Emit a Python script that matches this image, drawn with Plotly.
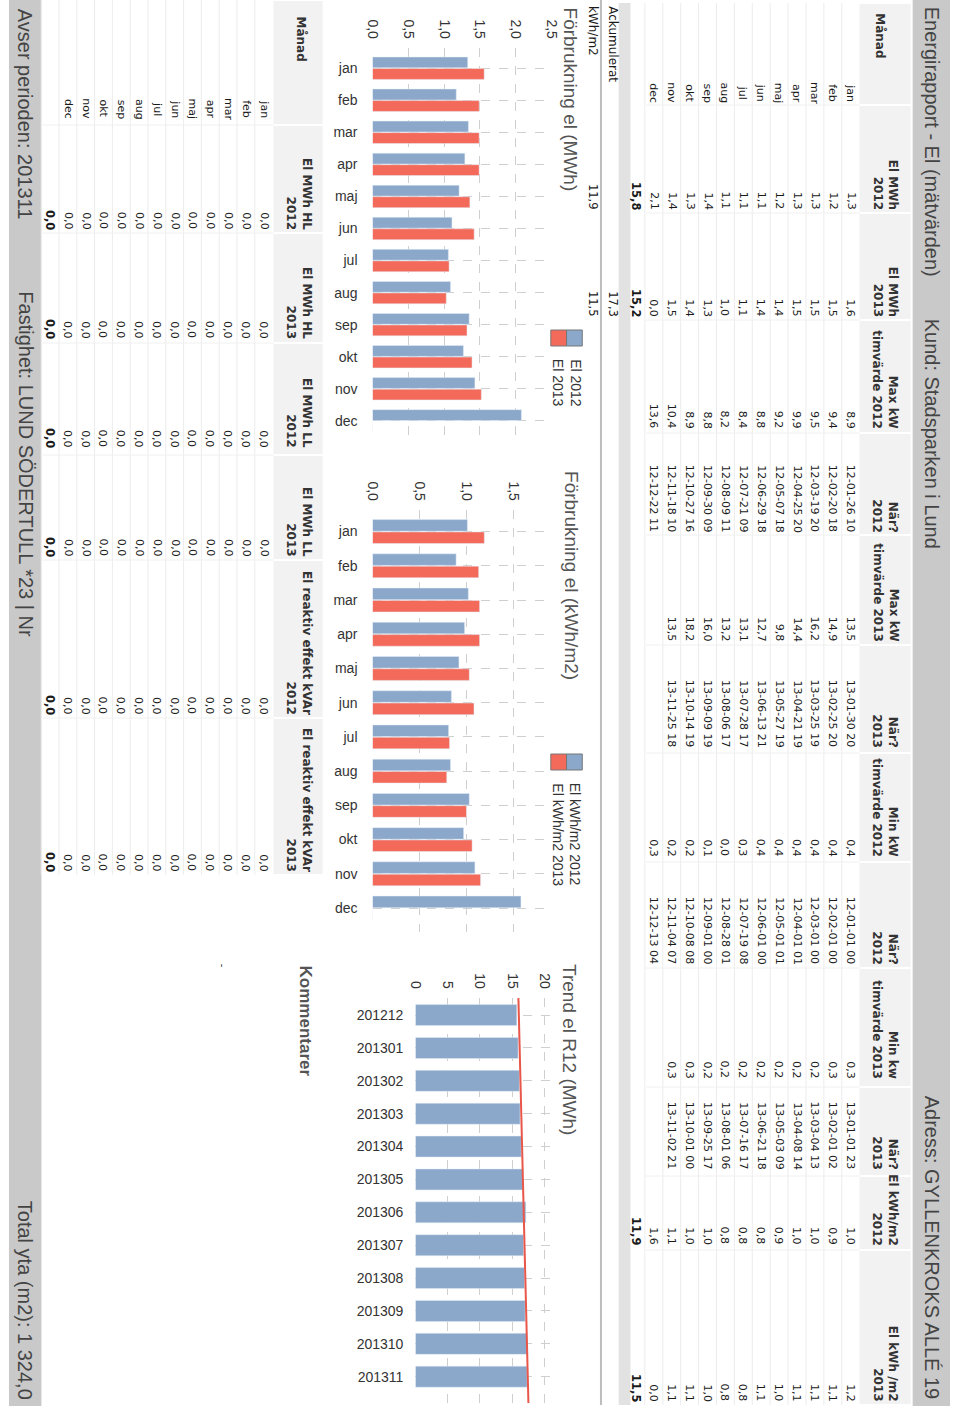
import plotly.graph_objects as go

W, H = 960, 1406

# ---------------- data ----------------
months = ["jan", "feb", "mar", "apr", "maj", "jun", "jul", "aug", "sep", "okt", "nov", "dec"]

el_mwh_2012 = [1.3, 1.2, 1.3, 1.3, 1.2, 1.1, 1.1, 1.1, 1.4, 1.3, 1.4, 2.1]
el_mwh_2013 = [1.6, 1.5, 1.5, 1.5, 1.4, 1.4, 1.1, 1.0, 1.3, 1.4, 1.5, 0.0]
max_kw_2012 = [8.9, 9.4, 9.5, 9.9, 9.2, 8.8, 8.4, 8.2, 8.8, 8.9, 10.4, 13.6]
max_when_2012 = ["12-01-26 10", "12-02-20 18", "12-03-19 20", "12-04-25 20", "12-05-07 18", "12-06-29 18",
                 "12-07-21 09", "12-08-09 11", "12-09-30 09", "12-10-27 16", "12-11-18 10", "12-12-22 11"]
max_kw_2013 = [13.5, 14.9, 16.2, 14.4, 9.8, 12.7, 13.1, 13.2, 16.0, 18.2, 13.5, None]
max_when_2013 = ["13-01-30 20", "13-02-25 20", "13-03-25 19", "13-04-21 19", "13-05-27 19", "13-06-13 21",
                 "13-07-28 17", "13-08-06 17", "13-09-09 19", "13-10-14 19", "13-11-25 18", ""]
min_kw_2012 = [0.4, 0.4, 0.4, 0.4, 0.4, 0.4, 0.3, 0.0, 0.1, 0.2, 0.2, 0.3]
min_when_2012 = ["12-01-01 00", "12-02-01 00", "12-03-01 00", "12-04-01 01", "12-05-01 01", "12-06-01 00",
                 "12-07-19 08", "12-08-28 01", "12-09-01 00", "12-10-08 08", "12-11-04 07", "12-12-13 04"]
min_kw_2013 = [0.3, 0.3, 0.2, 0.2, 0.2, 0.2, 0.2, 0.2, 0.2, 0.3, 0.3, None]
min_when_2013 = ["13-01-01 23", "13-02-01 02", "13-03-04 13", "13-04-08 14", "13-05-03 09", "13-06-21 18",
                 "13-07-16 17", "13-08-01 06", "13-09-25 17", "13-10-01 00", "13-11-02 21", ""]
kwh_m2_2012 = [1.0, 0.9, 1.0, 1.0, 0.9, 0.8, 0.8, 0.8, 1.0, 1.0, 1.1, 1.6]
kwh_m2_2013 = [1.2, 1.1, 1.1, 1.1, 1.0, 1.1, 0.8, 0.8, 1.0, 1.1, 1.1, 0.0]
total_mwh = [15.8, 15.2]
total_kwh_m2 = [11.9, 11.5]
ackumulerat_mwh_2013 = 17.3
ackumulerat_kwh_m2 = [11.9, 11.5]

hl_2012 = [0.0] * 12
hl_2013 = [0.0] * 12
ll_2012 = [0.0] * 12
ll_2013 = [0.0] * 12
kvar_2012 = [0.0] * 12
kvar_2013 = [0.0] * 12

# chart values
bar_mwh_2012 = [1.33, 1.17, 1.34, 1.29, 1.21, 1.11, 1.06, 1.09, 1.35, 1.27, 1.43, 2.08]
bar_mwh_2013 = [1.56, 1.49, 1.49, 1.49, 1.36, 1.42, 1.07, 1.03, 1.32, 1.39, 1.52, 0.0]
bar_kwhm2_2012 = [1.01, 0.89, 1.02, 0.98, 0.92, 0.84, 0.81, 0.83, 1.03, 0.97, 1.09, 1.58]
bar_kwhm2_2013 = [1.19, 1.13, 1.14, 1.14, 1.03, 1.08, 0.82, 0.79, 1.00, 1.06, 1.15, 0.0]

r12_periods = ["201212", "201301", "201302", "201303", "201304", "201305",
               "201306", "201307", "201308", "201309", "201310", "201311"]
r12_mwh = [15.7, 15.9, 16.1, 16.2, 16.4, 16.6, 17.1, 16.75, 16.9, 17.0, 17.3, 17.3]
r12_trend_ends = [15.95, 17.5]

# ---------------- style ----------------
BLUE = "#8BA8CB"
RED = "#F36A5A"
TXT = "#1a1a1a"
GRID = "#cfcfcf"
TFONT = "DejaVu Sans"
CFONT = "Liberation Sans"


def fmt(v):
    if v is None:
        return ""
    return f"{v:.1f}".replace(".", ",")


def px(x):
    return x / W


def py(y):
    return 1 - y / H


annotations = []
shapes = []


def text(t, x, y, anchor="end", size=11, color=TXT, bold=False, family=TFONT, align="right"):
    ya = {"start": "top", "end": "bottom", "middle": "middle"}[anchor]
    if bold:
        t = "<b>" + t.replace("<br>", "</b><br><b>") + "</b>"
    annotations.append(dict(text=t, x=px(x), y=py(y), xref="paper", yref="paper",
                            xanchor="center", yanchor=ya, textangle=90, showarrow=False,
                            align=align, borderpad=0,
                            font=dict(size=size, color=color, family=family)))


def rect(x0, x1, y0, y1, fill, line=None, lw=0):
    shapes.append(dict(type="rect", xref="paper", yref="paper",
                       x0=px(x0), x1=px(x1), y0=py(y1), y1=py(y0),
                       fillcolor=fill, line=dict(width=lw, color=line or fill), layer="below"))


def seg(x0, y0, x1, y1, color, w=1):
    shapes.append(dict(type="line", xref="paper", yref="paper", x0=px(x0), x1=px(x1),
                       y0=py(y0), y1=py(y1), line=dict(color=color, width=w), layer="below"))


# ---------------- header / footer bars ----------------
rect(920, 958, 0, 1406, "#c9c9c9")
text("Energirapport - El (mätvärden)", 940, 6, "start", 20, "#444", family=CFONT)
text("Kund: Stadsparken i Lund", 940, 318, "start", 20, "#444", family=CFONT)
text("Adress: GYLLENKROKS ALLÉ 19", 940, 1401, "end", 20, "#444", family=CFONT)

rect(1, 34, 0, 1406, "#c9c9c9")
text("Avser perioden: 201311", 18, 8, "start", 20, "#444", family=CFONT)
text("Fastighet: LUND SÖDERTULL *23 | Nr", 18, 290, "start", 20, "#444", family=CFONT)
text("Total yta (m2): 1 324,0", 18, 1401, "end", 20, "#444", family=CFONT)

# ---------------- top table ----------------
top_bounds = [3, 105, 213, 320, 433, 535, 645, 753, 862, 968, 1087, 1176, 1250, 1405]
for i in range(len(top_bounds) - 1):
    rect(866, 918, top_bounds[i] + 1, top_bounds[i + 1] - 1, "#f2f2f2")
row0, rstep = 857, 18.2
for k in range(0, 13):
    xk = row0 - 9.1 - k * rstep
    seg(xk, 3, xk, 1405, "#ececec")
for b in top_bounds[1:-1]:
    seg(649, b, 866, b, "#f0f0f0")
rect(621, 633, 3, 1405, "#e2e2e2")
seg(603, 0, 603, 1405, "#bdbdbd", 2)

top_cols = [
    ("El MWh<br>2012", [fmt(v) for v in el_mwh_2012], 211),
    ("El MWh<br>2013", [fmt(v) for v in el_mwh_2013], 318),
    ("Max kW<br>timvärde 2012", [fmt(v) for v in max_kw_2012], 430),
    ("När?<br>2012", max_when_2012, 533),
    ("Max kW<br>timvärde 2013", [fmt(v) for v in max_kw_2013], 643),
    ("När?<br>2013", max_when_2013, 748),
    ("Min kW<br>timvärde 2012", [fmt(v) for v in min_kw_2012], 858),
    ("När?<br>2012", min_when_2012, 965),
    ("Min kw<br>timvärde 2013", [fmt(v) for v in min_kw_2013], 1080),
    ("När?<br>2013", min_when_2013, 1170),
    ("El kWh/m2<br>2012", [fmt(v) for v in kwh_m2_2012], 1246),
    ("El kWh /m2<br>2013", [fmt(v) for v in kwh_m2_2013], 1403),
]
HS = 12
text("Månad", 887, 12, "start", HS, "#333", bold=True)
for i, m in enumerate(months):
    text(m, row0 - i * rstep, 93, "middle", 11)
for head, vals, yend in top_cols:
    text(head, 892, yend, "end", HS, "#333", bold=True)
    for i, v in enumerate(vals):
        if v:
            text(v, row0 - i * rstep, yend, "end", 11)
xt = row0 - 12 * rstep
text(fmt(total_mwh[0]), xt, 211, "end", 11.5, bold=True)
text(fmt(total_mwh[1]), xt, 318, "end", 11.5, bold=True)
text(fmt(total_kwh_m2[0]), xt, 1246, "end", 11.5, bold=True)
text(fmt(total_kwh_m2[1]), xt, 1403, "end", 11.5, bold=True)
text("Ackumulerat", 615, 5, "start", 12)
text(fmt(ackumulerat_mwh_2013), 615, 318, "end", 11.5)
text("kWh/m2", 595, 5, "start", 12)
text(fmt(ackumulerat_kwh_m2[0]), 595, 211, "end", 11.5)
text(fmt(ackumulerat_kwh_m2[1]), 595, 318, "end", 11.5)

# ---------------- bottom table ----------------
bot_bounds = [0, 125, 233, 343, 455, 560, 718, 875]
for i in range(len(bot_bounds) - 1):
    rect(270, 320, bot_bounds[i] + 1, bot_bounds[i + 1] - 1, "#f2f2f2")
brow0, bstep = 260, 18.1
for k in range(0, 13):
    xk = brow0 - 9.05 - k * bstep
    seg(xk, 0, xk, 875, "#ececec")
for b in bot_bounds[1:-1]:
    seg(35, b, 270, b, "#f0f0f0")
bot_cols = [
    ("El MWh HL<br>2012", hl_2012, 231),
    ("El MWh HL<br>2013", hl_2013, 340),
    ("El MWh LL<br>2012", ll_2012, 449),
    ("El MWh LL<br>2013", ll_2013, 558),
    ("El reaktiv effekt kVAr<br>2012", kvar_2012, 716),
    ("El reaktiv effekt kVAr<br>2013", kvar_2013, 873),
]
text("Månad", 297, 15, "start", HS, "#333", bold=True)
for i, m in enumerate(months):
    text(m, brow0 - i * bstep, 109, "middle", 11)
for head, vals, yend in bot_cols:
    text(head, 296, yend, "end", HS, "#333", bold=True)
    for i, v in enumerate(vals):
        text(fmt(v), brow0 - i * bstep, yend, "end", 11)
    text(fmt(sum(vals)), brow0 - 12 * bstep, yend, "end", 11.5, bold=True)

text("Kommentarer", 303, 965, "start", 17, "#555", bold=True, family=CFONT)
text("-", 219, 963, "start", 10, "#333")

# ---------------- chart titles & legends ----------------
text("Förbrukning el (MWh)", 573, 7, "start", 19, "#555", family=CFONT)
text("Förbrukning el (kWh/m2)", 573, 470, "start", 19, "#555", family=CFONT)
text("Trend el R12 (MWh)", 571, 963, "start", 19, "#555", family=CFONT)


def legend(y0, labels):
    rect(568, 584, y0, y0 + 16, BLUE, "#777", 1)
    rect(552, 568, y0, y0 + 16, RED, "#777", 1)
    text(labels[0], 577.5, y0 + 28, "start", 14, "#333", family=CFONT)
    text(labels[1], 559.5, y0 + 28, "start", 14, "#333", family=CFONT)


legend(330, ["El 2012", "El 2013"])
legend(754, ["El kWh/m2 2012", "El kWh/m2 2013"])

# ---------------- charts ----------------
fig = go.Figure()
fig.add_trace(go.Bar(x=bar_mwh_2012, y=months, orientation="h", marker_color=BLUE,
                     xaxis="x", yaxis="y", name="El 2012"))
fig.add_trace(go.Bar(x=bar_mwh_2013, y=months, orientation="h", marker_color=RED,
                     xaxis="x", yaxis="y", name="El 2013"))
fig.add_trace(go.Bar(x=bar_kwhm2_2012, y=months, orientation="h", marker_color=BLUE,
                     xaxis="x2", yaxis="y2", name="El kWh/m2 2012"))
fig.add_trace(go.Bar(x=bar_kwhm2_2013, y=months, orientation="h", marker_color=RED,
                     xaxis="x2", yaxis="y2", name="El kWh/m2 2013"))
r12_pos = list(range(len(r12_periods)))
r12_range = [11.8, -0.52]
fig.add_trace(go.Bar(x=r12_mwh, y=r12_pos, orientation="h", marker_color=BLUE, width=0.64,
                     xaxis="x3", yaxis="y3", name="R12"))
fig.add_trace(go.Scatter(x=r12_trend_ends, y=[r12_range[1], r12_range[0]], mode="lines",
                         line=dict(color="#E8574A", width=2), xaxis="x3", yaxis="y3", name="Trend"))

tickfont = dict(family=CFONT, size=14, color="#333")


def xax(domain, rng, dtick, fmt_):
    return dict(domain=[px(domain[0]), px(domain[1])], range=rng, side="top", dtick=dtick, tick0=0,
                tickformat=fmt_, tickangle=90, showgrid=True, gridcolor=GRID, griddash="dash",
                zeroline=False, showline=False, ticks="", tickfont=tickfont, ticklabelstandoff=6,
                fixedrange=True)


def yax(anchor, domain, rng, cat=True, standoff=14):
    d = dict(domain=[py(domain[1]), py(domain[0])], range=rng, anchor=anchor, tickangle=0,
             showgrid=True, gridcolor=GRID, griddash="dash", zeroline=False, showline=False,
             ticks="", tickfont=tickfont, ticklabelstandoff=standoff, fixedrange=True)
    if cat:
        d.update(type="category", categoryorder="array", categoryarray=months)
    return d


fig.update_layout(
    width=W, height=H, margin=dict(l=0, r=0, t=0, b=0),
    paper_bgcolor="white", plot_bgcolor="white",
    separators=", ", showlegend=False, barmode="group", bargap=0.28, bargroupgap=0.06,
    xaxis=dict(xax((370.7, 552.7), [0, 2.5], 0.5, ".1f"), anchor="y"),
    yaxis=yax("x", (48, 442), [11.66, -0.63]),
    xaxis2=dict(xax((370.7, 552.7), [0, 1.905], 0.5, ".1f"), anchor="y2"),
    yaxis2=yax("x2", (510, 932), [11.7, -0.63]),
    xaxis3=dict(xax((414.3, 552.7), [0, 21.07], 5, "d"), anchor="y3"),
    yaxis3=dict(yax("x3", (998, 1403), r12_range, cat=False, standoff=11),
                tickvals=r12_pos, ticktext=r12_periods),
    annotations=annotations, shapes=shapes,
)

fig.write_html("out.html", config={"displayModeBar": False},
               post_script="document.body.style.margin='0px';")
